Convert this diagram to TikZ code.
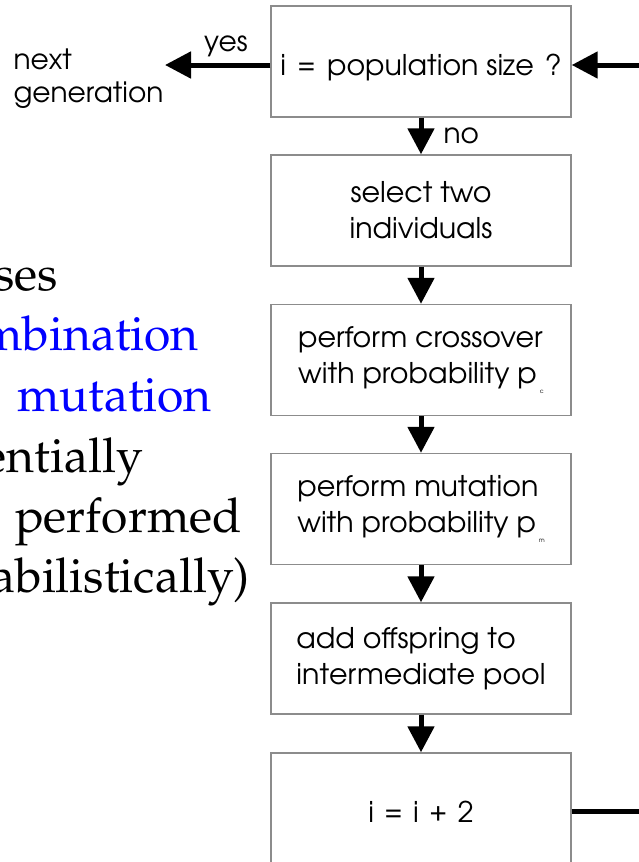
\documentclass[tikz,border=0pt]{standalone}
\usepackage[T1]{fontenc}
\usetikzlibrary{arrows.meta}
\newcommand\gothicface{\fontfamily{pag}\selectfont}
\newcommand\palaface{\fontfamily{ppl}\selectfont}
\newcommand\probsub[1]{\hspace{3pt}\raisebox{-10pt}{\fontsize{6}{6}\selectfont #1}}
\definecolor{boxgray}{RGB}{140,140,140}
\definecolor{slideblue}{RGB}{0,0,255}
\begin{document}
\begin{tikzpicture}[x=1pt,y=-1pt,
  stepbox/.style={draw=boxgray, line width=1.4pt, minimum width=300pt,
    minimum height=111pt, inner sep=0pt, align=left,
    font=\gothicface\fontsize{28.5}{36}\selectfont},
  oneline/.style={text height=33pt, text depth=6pt},
  flow/.style={line width=5pt, -{Triangle[width=26pt,length=26pt]}},
  lbl/.style={font=\gothicface\fontsize{28}{33}\selectfont, inner sep=0pt},
  slide/.style={font=\palaface\fontsize{48}{60}\selectfont, anchor=base east, inner sep=0pt}]
\useasboundingbox (0,0) rectangle (638,862);

% slide text running in from the left
\node[slide] (t1) at (58,290) {ses};
\node[slide, text=slideblue] (t2) at (199,350) {mbination};
\node[slide, text=slideblue] (t3) at (212,411) {mutation};
\node[slide] (t4) at (143,472) {entially};
\node[slide] (t5) at (242,532) {performed};
\node[slide] (t6) at (250,592) {abilistically)};

% flow chart boxes
\node[stepbox, oneline] (b1) at (421,61.5) {i\hspace{4pt} = \hspace{4pt}population size\hspace{3pt} ?};
\node[stepbox, align=center] (b2) at (421,210.5) {select two\\individuals};
\node[stepbox] (b3) at (421,360) {perform crossover\\with probability p\probsub{c}};
\node[stepbox] (b4) at (421,509) {perform mutation\\with probability p\probsub{m}};
\node[stepbox] (b5) at (421,658.5) {add offspring to\\intermediate pool};
\node[stepbox, oneline] (b6) at (421,808.5) {i\hspace{3pt} = \hspace{3pt}i\hspace{3pt} + \hspace{3pt}2};

% vertical flow
\draw[flow] (b1.south) -- node[lbl, right=20pt] (no) {no} (b2.north);
\draw[flow] (b2.south) -- (b3.north);
\draw[flow] (b3.south) -- (b4.north);
\draw[flow] (b4.south) -- (b5.north);
\draw[flow] (b5.south) -- (b6.north);

% exit to the next generation
\node[lbl, align=left] (ng) at (88.5,78) {next\\generation};
\coordinate (exitpt) at (165,65);
\draw[flow] (b1.west |- exitpt) -- (exitpt);
\node[lbl] (yes) at (226,46) {yes};

% loop back from the counter to the test
\coordinate (loopin) at (642,65);
\coordinate (loopout) at (642,811);
\draw[flow] (loopin) -- (b1.east |- loopin);
\draw[line width=5pt] (b6.east |- loopout) -- (loopout);
\end{tikzpicture}
\end{document}
